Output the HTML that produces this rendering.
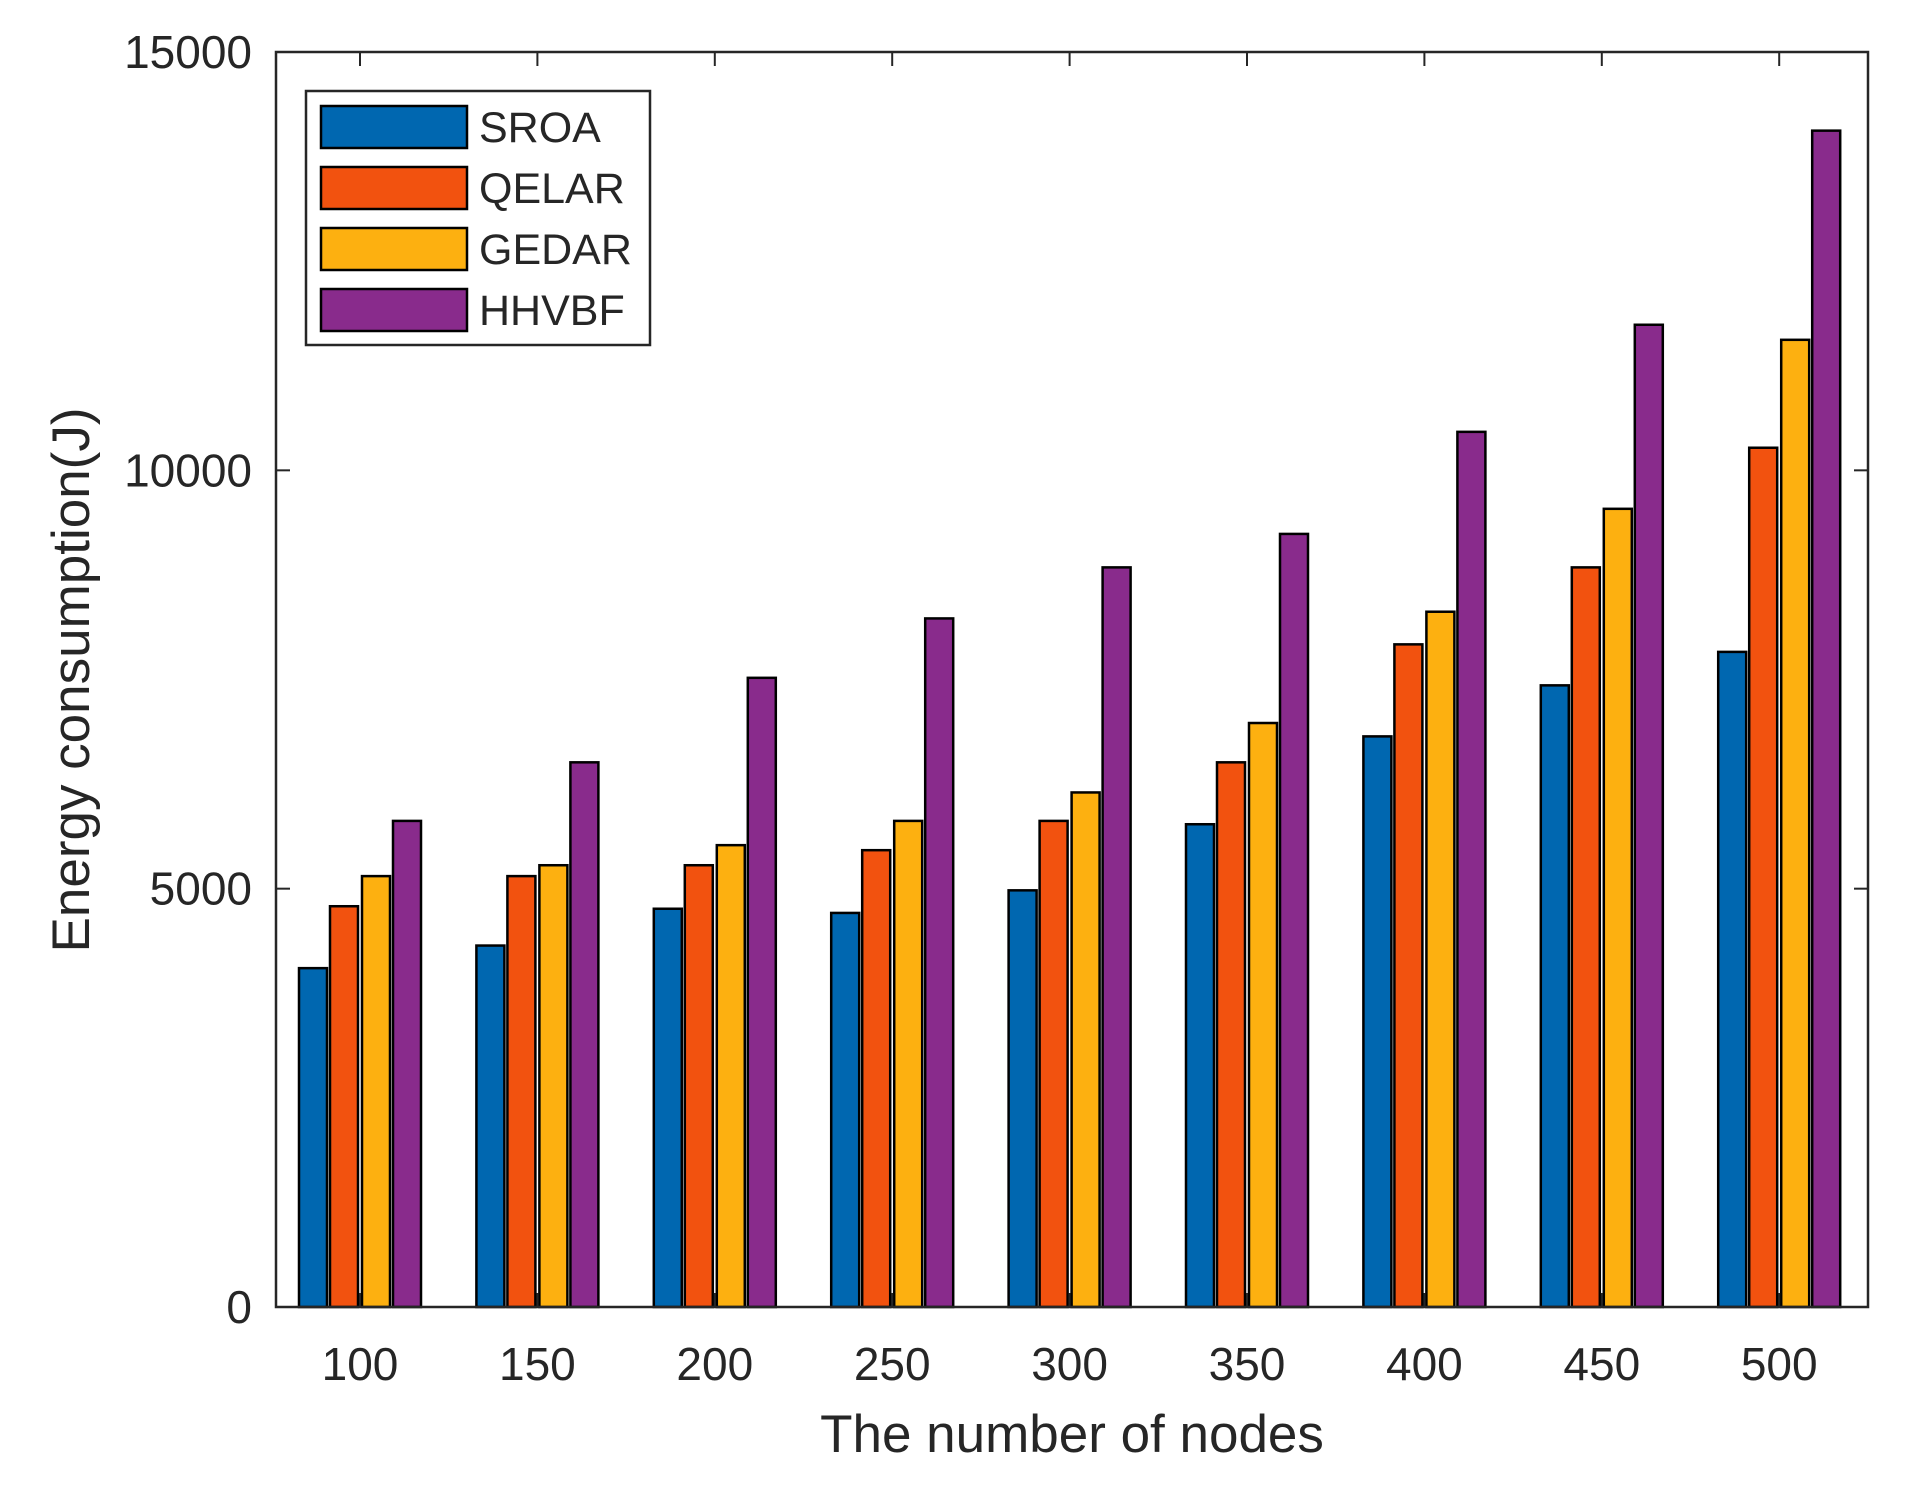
<!DOCTYPE html>
<html><head><meta charset="utf-8"><style>body{margin:0;background:#fff}svg{display:block}text{font-family:"Liberation Sans",sans-serif;fill:#262626}</style></head>
<body>
<svg id="chart" width="1921" height="1495" viewBox="0 0 1921 1495" xmlns="http://www.w3.org/2000/svg"></svg>
<script>
const categories=["100","150","200","250","300","350","400","450","500"];
const seriesNames=["SROA","QELAR","GEDAR","HHVBF"];
const sroa=[4050,4320,4760,4710,4980,5770,6820,7430,7830];
const qelar=[4790,5150,5280,5460,5810,6510,7920,8840,10270];
const gedar=[5150,5280,5520,5810,6150,6980,8310,9540,11560];
const hhvbf=[5810,6510,7520,8230,8840,9240,10460,11740,14060];
const yTicks=[0,5000,10000,15000];
const colors=["#0067B0","#F2520F","#FDB010","#892B8C"];
const series=[sroa,qelar,gedar,hhvbf];
const NS="http://www.w3.org/2000/svg";
const svg=document.getElementById('chart');
const L=276,R=1868,T=52,B=1307;
const y=v=>B-(v/15000)*(B-T);
const x=i=>360+i*177.4;
function mk(t,a,p){const e=document.createElementNS(NS,t);for(const k in a)e.setAttribute(k,a[k]);(p||svg).appendChild(e);return e;}
const offs=[-47,-16,16,47],bw=28;
series.forEach((s,si)=>{s.forEach((v,i)=>{
 const r=mk('rect',{x:x(i)+offs[si]-bw/2,y:y(v),width:bw,height:B-y(v),fill:colors[si],stroke:'#000','stroke-width':2.5});
 
 
});});
const ax=mk('rect',{x:L,y:T,width:R-L,height:B-T,fill:'none',stroke:'#262626','stroke-width':2.5});


yTicks.forEach(v=>{
 mk('line',{x1:L,x2:L+14,y1:y(v),y2:y(v),stroke:'#262626','stroke-width':2});
 mk('line',{x1:R,x2:R-14,y1:y(v),y2:y(v),stroke:'#262626','stroke-width':2});
 const t=mk('text',{x:252,y:y(v)+16,'text-anchor':'end','font-size':46});t.textContent=v;
 
 
});
categories.forEach((c,i)=>{
 mk('line',{x1:x(i),x2:x(i),y1:B,y2:B-14,stroke:'#262626','stroke-width':2});
 mk('line',{x1:x(i),x2:x(i),y1:T,y2:T+14,stroke:'#262626','stroke-width':2});
 const t=mk('text',{x:x(i),y:1380,'text-anchor':'middle','font-size':46});t.textContent=c;
 
 
});
const xt=mk('text',{x:1072,y:1452,'text-anchor':'middle','font-size':53});xt.textContent='The number of nodes';


const yt=mk('text',{x:0,y:0,'text-anchor':'middle','font-size':53,transform:'translate(89,680) rotate(-90)'});yt.textContent='Energy consumption(J)';


const lg=mk('g',{});


mk('rect',{x:306,y:91,width:344,height:254,fill:'#fff',stroke:'#262626','stroke-width':2.5},lg);
seriesNames.forEach((n,i)=>{
 const cy=127+i*61;
 const g=mk('g',{},lg);
 
 
 mk('rect',{x:321,y:cy-21,width:146,height:42,fill:colors[i],stroke:'#000','stroke-width':2.5},g);
 const t=mk('text',{x:479,y:cy+15,'font-size':43},g);t.textContent=n;
});
</script>
</body></html>
